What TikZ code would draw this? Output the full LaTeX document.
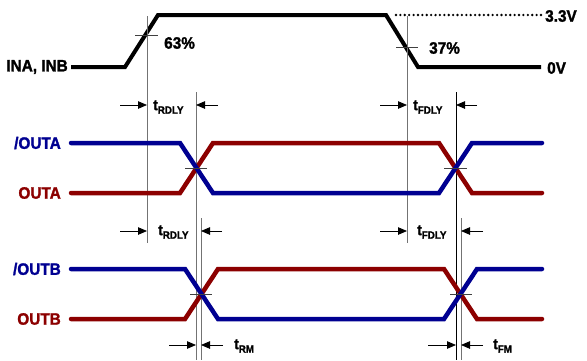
\documentclass[tikz,border=0pt]{standalone}
\usepackage{fontspec}
\setmainfont{Liberation Sans}
\newfontfamily\lblfont{Liberation Sans}[FakeStretch=0.93, BoldFeatures={FakeBold=1.6}]
\usetikzlibrary{arrows.meta,calc}
\definecolor{sigblue}{RGB}{0,0,145}
\definecolor{sigred}{RGB}{140,0,0}
\newcommand\tlab[1]{t\raisebox{-0.45ex}{\fontsize{10.5}{11}\selectfont #1}}
\begin{document}
\begin{tikzpicture}[x=1pt,y=-1pt,
  insig/.style={line width=4pt, line join=miter},
  bsig/.style={line width=4.5pt, draw=sigblue, line cap=round},
  rsig/.style={line width=4.5pt, draw=sigred, line cap=round},
  guide/.style={line width=1pt, draw=black!55},
  guidek/.style={line width=0.9pt, draw=black},
  tickm/.style={line width=0.8pt, draw=black!75},
  dimarrow/.style={line width=0.8pt, -{Triangle[length=9pt,width=7.5pt]}},
  lbl/.style={font=\lblfont\fontsize{16.5}{18}\selectfont\bfseries, inner sep=0pt},
  tl/.style={font=\lblfont\fontsize{15}{17}\selectfont\bfseries, inner sep=0pt, anchor=west},
]
\useasboundingbox (0,0) rectangle (587,360);

% ---------- input signal ----------
\coordinate (i0) at (71,67);
\coordinate (i1) at (125,67);
\coordinate (i2) at (158,15);
\coordinate (i3) at (386,15);
\coordinate (i4) at (418,67);
\coordinate (i5) at (541,67);
\draw[insig] (i0) -- (i1) -- (i2) -- (i3) -- (i4) -- (i5);
\coordinate (d0) at (396,15);
\coordinate (d1) at (541,15);
\foreach \k in {0,...,33} \fill ($(d0)!\k/33!(d1)$) circle (1.3pt);

\node[lbl, anchor=east] (ina) at (68,67) {INA, INB};
\node[lbl, anchor=west] (v33) at (545,16) {3.3V};
\node[lbl, anchor=west] (v0) at (547,68) {0V};
\node[lbl, anchor=west] (p63) at (164,43) {63\%};
\node[lbl, anchor=west] (p37) at (429,48) {37\%};

% ---------- guide lines ----------
\coordinate (g1t) at (147,16);  \coordinate (g1b) at (147,243);
\coordinate (g2t) at (196,92);  \coordinate (g2b) at (196,360);
\coordinate (g3t) at (201,218); \coordinate (g3b) at (201,360);
\coordinate (g4t) at (407,16);  \coordinate (g4b) at (407,243);
\coordinate (g5t) at (456,92);  \coordinate (g5b) at (456,360);
\coordinate (g6t) at (461,218); \coordinate (g6b) at (461,360);
\draw[guide] (g1t) -- (g1b);
\draw[guide] (g2t) -- (g2b);
\draw[guide] (g3t) -- (g3b);
\draw[guide] (g4t) -- (g4b);
\draw[guidek] (g5t) -- (g5b);
\draw[guide] (g6t) -- (g6b);

% ticks at 63% / 37%
\coordinate (k1a) at (135,35); \coordinate (k1b) at (158,35);
\coordinate (k2a) at (396,47); \coordinate (k2b) at (418,47);
\draw[tickm] (k1a) -- (k1b);
\draw[tickm] (k2a) -- (k2b);

% ---------- OUTA ----------
\coordinate (a0h) at (71,143);  \coordinate (a0l) at (71,193);
\coordinate (a1h) at (180,143); \coordinate (a1l) at (180,193);
\coordinate (a2h) at (213,143); \coordinate (a2l) at (213,193);
\coordinate (a3h) at (439,143); \coordinate (a3l) at (439,193);
\coordinate (a4h) at (472,143); \coordinate (a4l) at (472,193);
\coordinate (a5h) at (542,143); \coordinate (a5l) at (542,193);
\draw[rsig] (a0l) -- (a1l) -- (a2h) -- (a3h) -- (a4l) -- (a5l);
\draw[bsig] (a0h) -- (a1h) -- (a2l) -- (a3l) -- (a4h) -- (a5h);
\node[lbl, anchor=east, text=sigblue] (nouta) at (61,143) {/OUTA};
\node[lbl, anchor=east, text=sigred] (outa) at (61,193) {OUTA};
\coordinate (k3a) at (185,168); \coordinate (k3b) at (207,168);
\coordinate (k4a) at (444,168); \coordinate (k4b) at (467,168);
\draw[tickm] (k3a) -- (k3b);
\draw[tickm] (k4a) -- (k4b);

% ---------- OUTB ----------
\coordinate (b0h) at (71,269);  \coordinate (b0l) at (71,319);
\coordinate (b1h) at (185,269); \coordinate (b1l) at (185,319);
\coordinate (b2h) at (218,269); \coordinate (b2l) at (218,319);
\coordinate (b3h) at (444,269); \coordinate (b3l) at (444,319);
\coordinate (b4h) at (477,269); \coordinate (b4l) at (477,319);
\coordinate (b5h) at (542,269); \coordinate (b5l) at (542,319);
\draw[rsig] (b0l) -- (b1l) -- (b2h) -- (b3h) -- (b4l) -- (b5l);
\draw[bsig] (b0h) -- (b1h) -- (b2l) -- (b3l) -- (b4h) -- (b5h);
\node[lbl, anchor=east, text=sigblue] (noutb) at (61,269) {/OUTB};
\node[lbl, anchor=east, text=sigred] (outb) at (61,319) {OUTB};
\coordinate (k5a) at (190,294); \coordinate (k5b) at (212,294);
\coordinate (k6a) at (450,294); \coordinate (k6b) at (472,294);
\draw[tickm] (k5a) -- (k5b);
\draw[tickm] (k6a) -- (k6b);

% ---------- timing arrows ----------
\coordinate (r1a) at (120,105); \coordinate (r1b) at (147,105);
\coordinate (r1c) at (218,105); \coordinate (r1d) at (196,105);
\draw[dimarrow] (r1a) -- (r1b);
\draw[dimarrow] (r1c) -- (r1d);
\node[tl] (trd1) at (153,107) {\tlab{RDLY}};
\coordinate (f1a) at (380,105); \coordinate (f1b) at (407,105);
\coordinate (f1c) at (477,105); \coordinate (f1d) at (456,105);
\draw[dimarrow] (f1a) -- (f1b);
\draw[dimarrow] (f1c) -- (f1d);
\node[tl] (tfd1) at (413,107) {\tlab{FDLY}};

\coordinate (r2a) at (120,231); \coordinate (r2b) at (147,231);
\coordinate (r2c) at (222,231); \coordinate (r2d) at (201,231);
\draw[dimarrow] (r2a) -- (r2b);
\draw[dimarrow] (r2c) -- (r2d);
\node[tl] (trd2) at (158,232) {\tlab{RDLY}};
\coordinate (f2a) at (380,231); \coordinate (f2b) at (407,231);
\coordinate (f2c) at (483,231); \coordinate (f2d) at (461,231);
\draw[dimarrow] (f2a) -- (f2b);
\draw[dimarrow] (f2c) -- (f2d);
\node[tl] (tfd2) at (417,232) {\tlab{FDLY}};

\coordinate (m1a) at (169,345); \coordinate (m1b) at (196,345);
\coordinate (m1c) at (223,345); \coordinate (m1d) at (201,345);
\draw[dimarrow] (m1a) -- (m1b);
\draw[dimarrow] (m1c) -- (m1d);
\node[tl] (trm) at (234,346) {\tlab{RM}};
\coordinate (m2a) at (428,345); \coordinate (m2b) at (456,345);
\coordinate (m2c) at (483,345); \coordinate (m2d) at (461,345);
\draw[dimarrow] (m2a) -- (m2b);
\draw[dimarrow] (m2c) -- (m2d);
\node[tl] (tfm) at (493,346) {\tlab{FM}};
\end{tikzpicture}
\end{document}
